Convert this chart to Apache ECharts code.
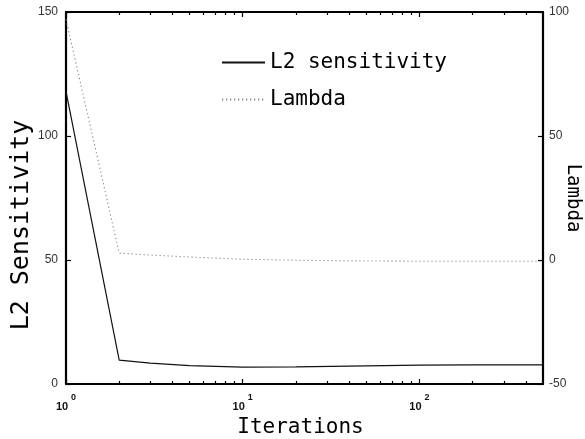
<!DOCTYPE html>
<html><head><meta charset="utf-8">
<script src="https://cdn.jsdelivr.net/npm/echarts@6/dist/echarts.min.js"></script>
<style>html,body{margin:0;padding:0;background:#fff}#c{width:585px;height:439px}</style>
</head><body><div id="c"></div>
<script>
const iterations = [1, 2, 3, 5, 10, 20, 50, 100, 200, 500];
const l2Sensitivity = [118, 9.6, 8.4, 7.4, 6.8, 6.9, 7.3, 7.6, 7.7, 7.7];
const lambda = [97, 2.8, 2.0, 1.2, 0.3, -0.1, -0.4, -0.5, -0.5, -0.5];
const xMajorTicks = [1, 10, 100];
const xMinorTicks = [2,3,4,5,6,7,8,9,20,30,40,50,60,70,80,90,200,300,400];
const leftTicks = [0, 50, 100, 150];
const rightTicks = [-50, 0, 50, 100];

const mono = '"DejaVu Sans Mono", monospace';
const numFont = '"Liberation Sans", Arial, sans-serif';
const chart = echarts.init(document.getElementById('c'));
function xAx(pos, major, labels) {
  return {
    type: 'log', logBase: 10, min: 1, max: 500, position: pos,
    nameMoveOverlap: false,
    axisLine: {show: major, onZero: false, lineStyle: {color: '#000', width: 2.2}},
    axisTick: {show: true, inside: true, length: major ? 5 : 3,
      customValues: major ? xMajorTicks : xMinorTicks,
      lineStyle: {color: '#000', width: 1.2}},
    axisLabel: labels ? {
      show: true, customValues: xMajorTicks, margin: 9,
      formatter: v => '{b|10}{s|' + Math.round(Math.log10(v)) + '}',
      rich: {b: {fontFamily: numFont, fontWeight: 'bold', fontSize: 11, color: '#111', verticalAlign: 'bottom'},
             s: {fontFamily: numFont, fontWeight: 'bold', fontSize: 9, color: '#111', padding: [0,0,10,3], verticalAlign: 'bottom'}}
    } : {show: false},
    splitLine: {show: false},
    name: labels ? 'Iterations' : '', nameLocation: 'middle', nameGap: 33,
    nameTextStyle: {fontFamily: mono, fontSize: 21, color: '#000', padding: [0, 8, 0, 0]}
  };
}
chart.setOption({
  animation: false,
  grid: {left: 66, right: 42, top: 12, bottom: 55, containLabel: false, outerBoundsMode: 'none'},
  legend: {
    orient: 'vertical', left: 216, top: 47, itemWidth: 43, itemHeight: 14, itemGap: 16,
    textStyle: {fontFamily: mono, fontSize: 21, color: '#000'},
    data: [{name: 'L2 sensitivity', itemStyle: {opacity: 0}}, {name: 'Lambda', itemStyle: {opacity: 0}}]
  },
  xAxis: [xAx('bottom', true, true), xAx('bottom', false, false), xAx('top', true, false), xAx('top', false, false)],
  yAxis: [
    {type: 'value', min: 0, max: 150, interval: 50, position: 'left', nameMoveOverlap: false,
     axisLine: {show: true, onZero: false, lineStyle: {color: '#000', width: 2.2}},
     axisTick: {show: true, inside: true, length: 5, lineStyle: {color: '#000', width: 1.2}},
     axisLabel: {fontFamily: numFont, fontSize: 12, color: '#333', margin: 8},
     splitLine: {show: false},
     name: 'L2 Sensitivity', nameLocation: 'middle', nameGap: 32, nameRotate: 90,
     nameTextStyle: {fontFamily: mono, fontSize: 25, color: '#000', padding: [0, 54, 0, 0]}},
    {type: 'value', min: -50, max: 100, interval: 50, position: 'right', nameMoveOverlap: false,
     axisLine: {show: true, onZero: false, lineStyle: {color: '#000', width: 2.2}},
     axisTick: {show: true, inside: true, length: 5, lineStyle: {color: '#000', width: 1.2}},
     axisLabel: {fontFamily: numFont, fontSize: 12, color: '#333', margin: 6},
     splitLine: {show: false},
     name: 'Lambda', nameLocation: 'middle', nameGap: 20, nameRotate: -90,
     nameTextStyle: {fontFamily: mono, fontSize: 19, color: '#000'}}
  ],
  series: [
    {name: 'L2 sensitivity', type: 'line', xAxisIndex: 0, yAxisIndex: 0, symbol: 'none',
     data: iterations.map((x, i) => [x, l2Sensitivity[i]]),
     lineStyle: {color: '#111', width: 1.2}, itemStyle: {color: '#111'}},
    {name: 'Lambda', type: 'line', xAxisIndex: 0, yAxisIndex: 1, symbol: 'none',
     data: iterations.map((x, i) => [x, lambda[i]]),
     lineStyle: {color: '#888', width: 1.1, type: [1.2, 2.8]}, itemStyle: {color: '#888'}}
  ]
});
</script></body></html>
